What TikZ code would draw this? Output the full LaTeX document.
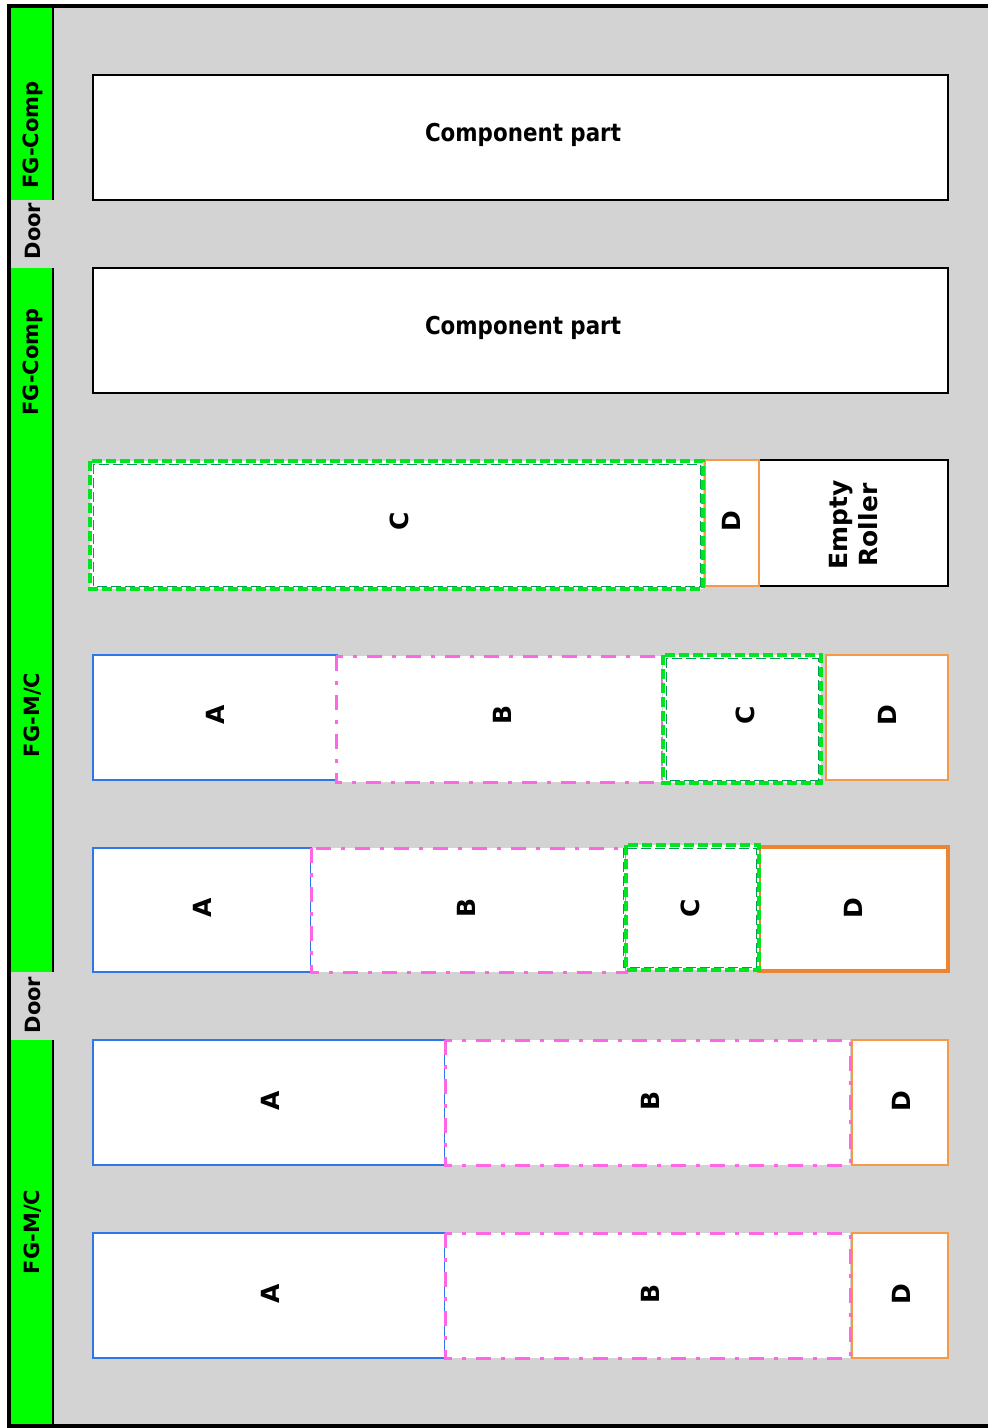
\documentclass[tikz,border=0pt]{standalone}
\usepackage{fontspec}
\usepackage{graphicx}
\setmainfont{DejaVu Sans}
\definecolor{stripgreen}{HTML}{00FF00}
\definecolor{bggray}{HTML}{D3D3D3}
\definecolor{cgreen}{HTML}{00E61E}
\definecolor{cdark}{HTML}{00A050}
\definecolor{ablue}{HTML}{2F76E8}
\definecolor{bpink}{HTML}{FF66E6}
\definecolor{dorange}{HTML}{F59A48}
\definecolor{ddark}{HTML}{EE8430}
\tikzset{
  strip/.style={fill=stripgreen,draw=none},
  striplbl/.style={rotate=90,font=\fontsize{10.5}{12}\bfseries},
  complbl/.style={font=\fontsize{12.3}{14}\bfseries},
  lbl/.style={rotate=90,font=\fontsize{12.5}{14}\bfseries},
  compbox/.style={fill=white,draw=black,line width=0.8pt},
  abox/.style={fill=white,draw=ablue,line width=0.9pt},
  bbox/.style={fill=white,draw=bpink,line width=1.5pt,dash pattern=on 7.5pt off 5pt on 2pt off 5pt},
  cbox/.style={fill=white,draw=cgreen,line width=2pt,dash pattern=on 5pt off 2pt},
  cline/.style={draw=cdark,line width=0.5pt,dash pattern=on 5pt off 2pt},
  dbox/.style={fill=white,draw=dorange,line width=1.1pt},
  dboxthick/.style={fill=white,draw=ddark,line width=1.6pt},
  ebox/.style={fill=white,draw=black,line width=0.6pt},
}
\begin{document}
\begin{tikzpicture}[x=0.5pt,y=-0.5pt]
\useasboundingbox (0,0) rectangle (987,1428);
% background
\fill[bggray] (9,6) rectangle (990,1426);
% green strips
\fill[strip] (10,7) rectangle (53,200);
\fill[strip] (10,268) rectangle (53,460);
\fill[strip] (10,460) rectangle (53,972);
\fill[strip] (10,1040) rectangle (53,1425);
\draw[line width=1pt] (53,7) -- (53,200);
\draw[line width=1pt] (53,268) -- (53,972);
\draw[line width=1pt] (53,1040) -- (53,1425);
% outer frame
\draw[line width=1.6pt] (992,6) -- (9,6) -- (9,1426) -- (992,1426);
% strip labels
\node[striplbl] (s1) at (33,135) {FG-Comp};
\node[striplbl] (d1) at (33,231) {Door};
\node[striplbl] (s2) at (33,362) {FG-Comp};
\node[striplbl] (s3) at (33,715) {FG-M/C};
\node[striplbl] (d2) at (33,1005) {Door};
\node[striplbl] (s4) at (33,1232) {FG-M/C};
% row 1 and 2
\path[compbox] (93,75) rectangle (948,200);
\node[complbl] (cp1) at (523,135) {\scalebox{0.87}[1]{Component part}};
\path[compbox] (93,268) rectangle (948,393);
\node[complbl] (cp2) at (523,328) {\scalebox{0.87}[1]{Component part}};
% row 3
\path[ebox] (759,460) rectangle (948,586);
\path[dbox] (705,460) rectangle (759,586);
\path[cbox] (90,461) rectangle (703,589);
\path[cline] (93,464) rectangle (700,586);
\node[lbl] (r3c) at (399,521) {C};
\node[lbl] (r3d) at (731,521) {D};
\node[lbl,align=center,font=\fontsize{12.5}{15}\bfseries] (r3e) at (854,525) {Empty\\Roller};
% row 4
\path[abox] (93,655) rectangle (337,780);
\path[dbox] (826,655) rectangle (948,780);
\path[bbox] (336,656) rectangle (662,782);
\path[cbox] (663,655) rectangle (821,783);
\path[cline] (666,658) rectangle (818,780);
\node[lbl] (r4a) at (215,715) {A};
\node[lbl] (r4b) at (502,715) {B};
\node[lbl] (r4c) at (745,715) {C};
\node[lbl] (r4d) at (887,715) {D};
% row 5
\path[abox] (93,848) rectangle (311,972);
\path[dboxthick] (759,847) rectangle (948,971);
\path[bbox] (311,848) rectangle (626,972);
\path[cbox] (626,845) rectangle (759,970);
\path[cline] (623,848) rectangle (756,967);
\node[lbl] (r5a) at (202,908) {A};
\node[lbl] (r5b) at (466,908) {B};
\node[lbl] (r5c) at (690,908) {C};
\node[lbl] (r5d) at (853,908) {D};
% row 6
\path[abox] (93,1040) rectangle (445,1165);
\path[dbox] (852,1040) rectangle (948,1165);
\path[bbox] (445,1040) rectangle (850,1165);
\node[lbl] (r6a) at (270,1101) {A};
\node[lbl] (r6b) at (650,1101) {B};
\node[lbl] (r6d) at (901,1101) {D};
% row 7
\path[abox] (93,1233) rectangle (445,1358);
\path[dbox] (852,1233) rectangle (948,1358);
\path[bbox] (445,1233) rectangle (850,1358);
\node[lbl] (r7a) at (270,1294) {A};
\node[lbl] (r7b) at (650,1294) {B};
\node[lbl] (r7d) at (901,1294) {D};
\end{tikzpicture}
\end{document}
